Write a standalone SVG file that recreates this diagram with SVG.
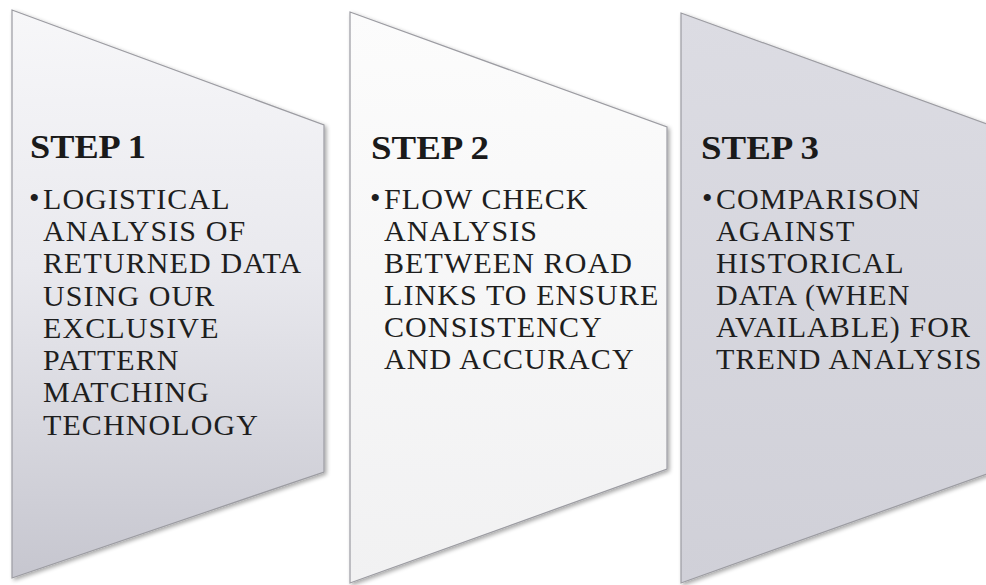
<svg xmlns="http://www.w3.org/2000/svg" width="986" height="585" viewBox="0 0 986 585">
<defs>
<linearGradient id="g1" x1="0" y1="0" x2="0" y2="1">
<stop offset="0" stop-color="#f7f7f9"/>
<stop offset="0.45" stop-color="#e9e9ee"/>
<stop offset="1" stop-color="#c6c6cf"/>
</linearGradient>
<linearGradient id="g2" x1="0" y1="0" x2="0" y2="1">
<stop offset="0" stop-color="#fcfcfc"/>
<stop offset="1" stop-color="#f1f1f2"/>
</linearGradient>
<linearGradient id="g3" x1="0" y1="0" x2="0" y2="1">
<stop offset="0" stop-color="#dcdce3"/>
<stop offset="1" stop-color="#d0d0d8"/>
</linearGradient>
<filter id="sh" x="-5%" y="-5%" width="115%" height="115%">
<feGaussianBlur in="SourceAlpha" stdDeviation="2"/>
<feOffset dx="2" dy="2" result="b"/>
<feComponentTransfer><feFuncA type="linear" slope="0.35"/></feComponentTransfer>
<feMerge><feMergeNode/><feMergeNode in="SourceGraphic"/></feMerge>
</filter>
</defs>
<style>
.shape{stroke:#9c9ca2;stroke-width:1.2;filter:url(#sh)}
.head{font-family:"Liberation Serif",serif;font-weight:bold;font-size:34px;fill:#1a1a1a}
.body{font-family:"Liberation Serif",serif;font-size:30px;letter-spacing:1.1px;fill:#1e1e1e}
.bul{font-family:"Liberation Serif",serif;font-size:30px;fill:#1e1e1e}
</style>
<rect width="986" height="585" fill="#ffffff"/>
<g id="step1">
<polygon class="shape" points="12,10 324,125 324,472 12,578" fill="url(#g1)"/>
<text class="head" x="30" y="158" textLength="116" lengthAdjust="spacingAndGlyphs">STEP 1</text>
<text class="bul" x="29" y="208">•</text>
<text class="body">
<tspan x="43" y="209">LOGISTICAL</tspan>
<tspan x="43" y="241">ANALYSIS OF</tspan>
<tspan x="43" y="273">RETURNED DATA</tspan>
<tspan x="43" y="306">USING OUR</tspan>
<tspan x="43" y="338">EXCLUSIVE</tspan>
<tspan x="43" y="370">PATTERN</tspan>
<tspan x="43" y="402">MATCHING</tspan>
<tspan x="43" y="435">TECHNOLOGY</tspan>
</text>
</g>
<g id="step2">
<polygon class="shape" points="350,12 667,127 667,469 350,583" fill="url(#g2)"/>
<text class="head" x="371" y="159" textLength="118" lengthAdjust="spacingAndGlyphs">STEP 2</text>
<text class="bul" x="370" y="208">•</text>
<text class="body">
<tspan x="384" y="209">FLOW CHECK</tspan>
<tspan x="384" y="241">ANALYSIS</tspan>
<tspan x="384" y="273">BETWEEN ROAD</tspan>
<tspan x="384" y="305">LINKS TO ENSURE</tspan>
<tspan x="384" y="337">CONSISTENCY</tspan>
<tspan x="384" y="369">AND ACCURACY</tspan>
</text>
</g>
<g id="step3">
<polygon class="shape" points="681,13 998,128 998,470 681,583" fill="url(#g3)"/>
<text class="head" x="701" y="159" textLength="118" lengthAdjust="spacingAndGlyphs">STEP 3</text>
<text class="bul" x="702" y="208">•</text>
<text class="body">
<tspan x="716" y="209">COMPARISON</tspan>
<tspan x="716" y="241">AGAINST</tspan>
<tspan x="716" y="273">HISTORICAL</tspan>
<tspan x="716" y="305">DATA (WHEN</tspan>
<tspan x="716" y="337">AVAILABLE) FOR</tspan>
<tspan x="716" y="369">TREND ANALYSIS</tspan>
</text>
</g>
<g id="connectors"/>
</svg>
